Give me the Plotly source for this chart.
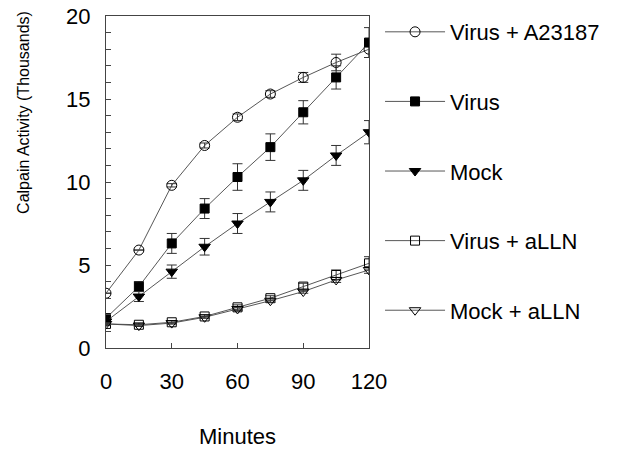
import plotly.graph_objects as go

minutes = [0, 15, 30, 45, 60, 75, 90, 105, 120]

virus_a23187 = [3.3, 5.9, 9.8, 12.2, 13.9, 15.3, 16.3, 17.2, 18.0]
virus_a23187_err = [0.0, 0.0, 0.1, 0.15, 0.2, 0.2, 0.3, 0.5, 0.5]

virus = [1.8, 3.7, 6.3, 8.4, 10.3, 12.1, 14.2, 16.3, 18.4]
virus_err = [0.1, 0.3, 0.6, 0.6, 0.8, 0.8, 0.7, 0.7, 0.9]

mock = [1.6, 3.1, 4.6, 6.1, 7.5, 8.8, 10.1, 11.6, 13.0]
mock_err = [0.1, 0.3, 0.4, 0.5, 0.6, 0.6, 0.6, 0.6, 0.7]

virus_alln = [1.45, 1.4, 1.55, 1.9, 2.45, 3.0, 3.7, 4.4, 5.1]
virus_alln_err = [0.1, 0.1, 0.1, 0.1, 0.15, 0.15, 0.2, 0.3, 0.4]

mock_alln = [1.45, 1.35, 1.5, 1.85, 2.35, 2.85, 3.4, 4.1, 4.7]
mock_alln_err = [0.05, 0.05, 0.05, 0.05, 0.1, 0.1, 0.1, 0.15, 0.2]

series = [
    ("Virus + A23187", virus_a23187, virus_a23187_err, "circle-open", 10),
    ("Virus", virus, virus_err, "square", 9),
    ("Mock", mock, mock_err, "triangle-down", 10),
    ("Virus + aLLN", virus_alln, virus_alln_err, "square-open", 9),
    ("Mock + aLLN", mock_alln, mock_alln_err, "triangle-down-open", 10),
]

font_family = "Liberation Sans, Arial, Helvetica, sans-serif"

fig = go.Figure()
for i, (name, vals, errs, sym, size) in enumerate(series):
    fig.add_trace(go.Scatter(
        x=minutes, y=vals, name=name, mode="lines+markers",
        legendgroup=f"g{i}",
        line=dict(color="#444444", width=0.9),
        marker=dict(symbol=sym, size=size, color="black",
                    line=dict(color="black", width=1)),
        error_y=dict(type="data", array=errs, visible=True,
                     color="#333333", thickness=1, width=5),
    ))

fig.update_layout(
    width=623, height=449,
    margin=dict(l=106, r=254, t=16, b=101, autoexpand=False),
    paper_bgcolor="white", plot_bgcolor="white",
    font=dict(family=font_family, size=22, color="black"),
    showlegend=True,
    legend=dict(x=1.042, y=1.015, xanchor="left", yanchor="top",
                font=dict(size=22), tracegroupgap=38, maxheight=440,
                bgcolor="rgba(0,0,0,0)", itemwidth=60),
)

fig.update_xaxes(
    range=[0, 120], tickvals=[0, 30, 60, 90, 120],
    showline=True, linecolor="#444444", linewidth=1, mirror=True,
    ticks="inside", ticklen=5, tickcolor="#444444",
    showgrid=False, zeroline=False, ticklabelstandoff=14,
    tickfont=dict(size=22), automargin=False,
)
fig.update_yaxes(
    range=[0, 20], tickvals=[0, 5, 10, 15, 20],
    showline=True, linecolor="#444444", linewidth=1, mirror=True,
    ticks="inside", ticklen=5, tickcolor="#444444",
    minor=dict(dtick=1, ticks="inside", ticklen=5, tickcolor="#444444"),
    showgrid=False, zeroline=False, ticklabelstandoff=10,
    tickfont=dict(size=22), automargin=False,
)

fig.add_annotation(text="Calpain Activity (Thousands)", xref="paper", yref="paper",
                   x=-0.312, y=0.711, textangle=-90, showarrow=False,
                   xanchor="center", yanchor="middle", font=dict(size=16))
fig.add_annotation(text="Minutes", xref="paper", yref="paper",
                   x=0.5, y=-0.268, showarrow=False,
                   xanchor="center", yanchor="middle", font=dict(size=22))

fig.write_html("out.html", config={"displayModeBar": False},
               post_script="document.body.style.margin='0px';")
